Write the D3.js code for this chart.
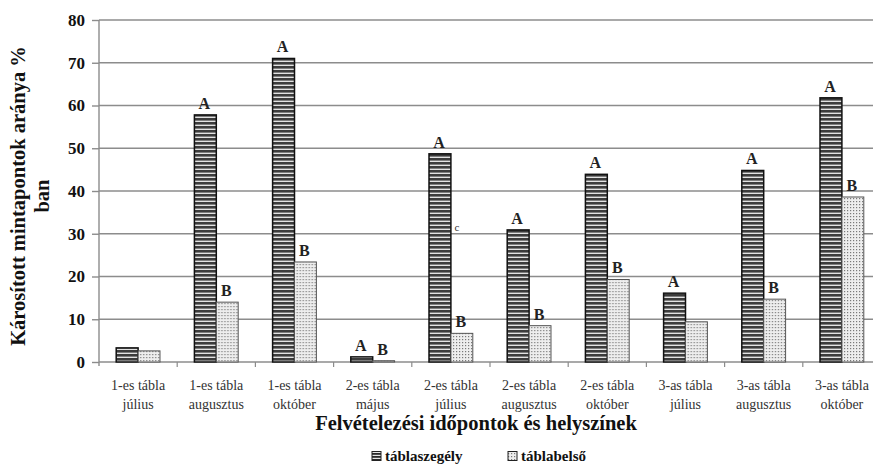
<!DOCTYPE html>
<html>
<head>
<meta charset="utf-8">
<script src="https://cdn.jsdelivr.net/npm/d3@7"></script>
<style>
  html, body { margin: 0; padding: 0; background: #fff; }
  svg { display: block; font-family: "Liberation Serif", "Times New Roman", serif; }
</style>
</head>
<body>
<svg id="chart" width="873" height="467"></svg>
<script>
// Category labels (two lines each)
const categories = [
  ["1-es tábla", "július"],
  ["1-es tábla", "augusztus"],
  ["1-es tábla", "október"],
  ["2-es tábla", "május"],
  ["2-es tábla", "július"],
  ["2-es tábla", "augusztus"],
  ["2-es tábla", "október"],
  ["3-as tábla", "július"],
  ["3-as tábla", "augusztus"],
  ["3-as tábla", "október"]
];
const seriesNames = ["táblaszegély", "táblabelső"];
// Damaged sample points, % (edge of field / inside of field)
const edgeValues   = [3.3, 57.8, 71.0, 1.2, 48.7, 30.9, 43.9, 16.1, 44.8, 61.8];
const innerValues  = [2.6, 14.0, 23.4, 0.3, 6.7, 8.5, 19.3, 9.4, 14.7, 38.6];
// Significance letters above the bars
const edgeLetters  = ["", "A", "A", "A", "A", "A", "A", "A", "A", "A"];
const innerLetters = ["", "B", "B", "B", "B", "B", "B", "", "B", "B"];
// Stray note in the 2-es tábla július group
const noteText = "c", noteCategory = 4, noteValue = 31.6;
const yTicks = [0, 10, 20, 30, 40, 50, 60, 70, 80];

const svg = d3.select("#chart");
const W = 873;
const plot = { left: 99, right: 881, top: 20, bottom: 362 };

const x0 = d3.scaleBand()
  .domain(d3.range(categories.length))
  .range([plot.left, plot.right])
  .paddingInner(0.44)
  .paddingOuter(0.22);
const x1 = d3.scaleBand().domain([0, 1]).range([0, x0.bandwidth()]);
const y = d3.scaleLinear().domain([0, 80]).range([plot.bottom, plot.top]);

// Fill patterns
const defs = svg.append("defs");
const hatch = defs.append("pattern").attr("id", "hatch")
  .attr("patternUnits", "userSpaceOnUse").attr("width", 8).attr("height", 4)
  .attr("y", plot.bottom);
hatch.append("rect").attr("width", 8).attr("height", 4).attr("fill", "#3c3c3c");
hatch.append("rect").attr("y", 2.6).attr("width", 8).attr("height", 1.4).attr("fill", "#e2e2e2");

const dots = defs.append("pattern").attr("id", "dots")
  .attr("patternUnits", "userSpaceOnUse").attr("width", 3).attr("height", 3);
dots.append("rect").attr("width", 3).attr("height", 3).attr("fill", "#eeeeee");
dots.append("rect").attr("width", 1.2).attr("height", 1.2).attr("fill", "#7a7a7a");

const legendHatch = defs.append("pattern").attr("id", "hatchSmall")
  .attr("patternUnits", "userSpaceOnUse").attr("width", 4).attr("height", 3);
legendHatch.append("rect").attr("width", 4).attr("height", 3).attr("fill", "#2a2a2a");
legendHatch.append("rect").attr("y", 1.8).attr("width", 4).attr("height", 1.2).attr("fill", "#e6e6e6");

// Gridlines
svg.append("g")
  .selectAll("line")
  .data(yTicks.filter(d => d > 0))
  .join("line")
  .attr("x1", plot.left).attr("x2", W)
  .attr("y1", d => y(d)).attr("y2", d => y(d))
  .attr("stroke", "#8c8c8c").attr("stroke-width", 1.4);

// Y axis
const yAxis = svg.append("g")
  .attr("transform", `translate(${plot.left},0)`)
  .call(d3.axisLeft(y).tickValues(yTicks).tickSize(7).tickPadding(7));
yAxis.select(".domain").attr("stroke", "#8c8c8c").attr("stroke-width", 1.4)
  .attr("d", `M0,${plot.top}V${plot.bottom + 4}`);
yAxis.selectAll(".tick line").attr("stroke", "#8c8c8c").attr("stroke-width", 1.4);
yAxis.selectAll(".tick text")
  .attr("font-family", "Liberation Serif").attr("font-weight", "bold")
  .attr("font-size", 17).attr("fill", "#111");

// X axis: ticks between categories
const xAxisG = svg.append("g");
xAxisG.append("line")
  .attr("x1", plot.left).attr("x2", W)
  .attr("y1", plot.bottom).attr("y2", plot.bottom)
  .attr("stroke", "#8c8c8c").attr("stroke-width", 1.4);
xAxisG.selectAll("line.tk")
  .data(d3.range(1, categories.length))
  .join("line").attr("class", "tk")
  .attr("x1", i => plot.left + i * x0.step()).attr("x2", i => plot.left + i * x0.step())
  .attr("y1", plot.bottom).attr("y2", plot.bottom + 5)
  .attr("stroke", "#8c8c8c").attr("stroke-width", 1.2);

// Category labels
const catG = svg.append("g")
  .selectAll("text")
  .data(categories)
  .join("text")
  .attr("x", (d, i) => x0(i) + x0.bandwidth() / 2)
  .attr("y", 390)
  .attr("text-anchor", "middle")
  .attr("font-size", 14)
  .attr("fill", "#333");
catG.selectAll("tspan")
  .data(d => d)
  .join("tspan")
  .attr("x", function () { return d3.select(this.parentNode).attr("x"); })
  .attr("dy", (d, j) => j === 0 ? 0 : 18.5)
  .text(d => d);

// Bars
const rows = categories.map((c, i) => ({ i, vals: [edgeValues[i], innerValues[i]], letters: [edgeLetters[i], innerLetters[i]] }));
const groups = svg.append("g").selectAll("g")
  .data(rows).join("g")
  .attr("transform", d => `translate(${x0(d.i)},0)`);

groups.selectAll("rect")
  .data(d => d.vals.map((v, s) => ({ v, s })))
  .join("rect")
  .attr("x", d => x1(d.s))
  .attr("y", d => y(d.v))
  .attr("width", x1.bandwidth())
  .attr("height", d => y(0) - y(d.v))
  .attr("fill", d => d.s === 0 ? "url(#hatch)" : "url(#dots)")
  .attr("stroke", d => d.s === 0 ? "#111" : "#555")
  .attr("stroke-width", d => d.s === 0 ? 1.5 : 1);

// Significance letters
groups.selectAll("text")
  .data(d => d.vals.map((v, s) => ({ v, s, t: d.letters[s] })).filter(d => d.t))
  .join("text")
  .attr("x", d => x1(d.s) + x1.bandwidth() / 2 - 1)
  .attr("y", d => y(d.v) - 6)
  .attr("text-anchor", "middle")
  .attr("font-size", 16).attr("font-weight", "bold")
  .attr("fill", "#222")
  .text(d => d.t);

svg.append("text")
  .attr("x", x0(noteCategory) + x1(1) + 6)
  .attr("y", y(noteValue) + 4)
  .attr("text-anchor", "middle")
  .attr("font-size", 11).attr("fill", "#333")
  .text(noteText);

// Axis titles
svg.append("text")
  .attr("x", 476).attr("y", 430)
  .attr("text-anchor", "middle")
  .attr("font-size", 20.5).attr("font-weight", "bold").attr("fill", "#111")
  .text("Felvételezési időpontok és helyszínek");

const yt = svg.append("text")
  .attr("transform", "translate(25,196) rotate(-90)")
  .attr("text-anchor", "middle")
  .attr("font-size", 20.5).attr("font-weight", "bold").attr("fill", "#111");
yt.append("tspan").attr("x", 0).attr("y", 0).text("Károsított mintapontok aránya %");
yt.append("tspan").attr("x", 0).attr("y", 24).text("ban");

// Legend
const legendX = [372, 508];
const lg = svg.append("g").selectAll("g")
  .data(seriesNames).join("g")
  .attr("transform", (d, i) => `translate(${legendX[i]},456)`);
lg.append("rect")
  .attr("x", 0).attr("y", -4.5).attr("width", 9).attr("height", 9)
  .attr("fill", (d, i) => i === 0 ? "url(#hatchSmall)" : "url(#dots)")
  .attr("stroke", "#222").attr("stroke-width", 1);
lg.append("text")
  .attr("x", 13).attr("y", 5)
  .attr("font-size", 15).attr("font-weight", "bold").attr("fill", "#111")
  .text(d => d);
</script>
</body>
</html>
